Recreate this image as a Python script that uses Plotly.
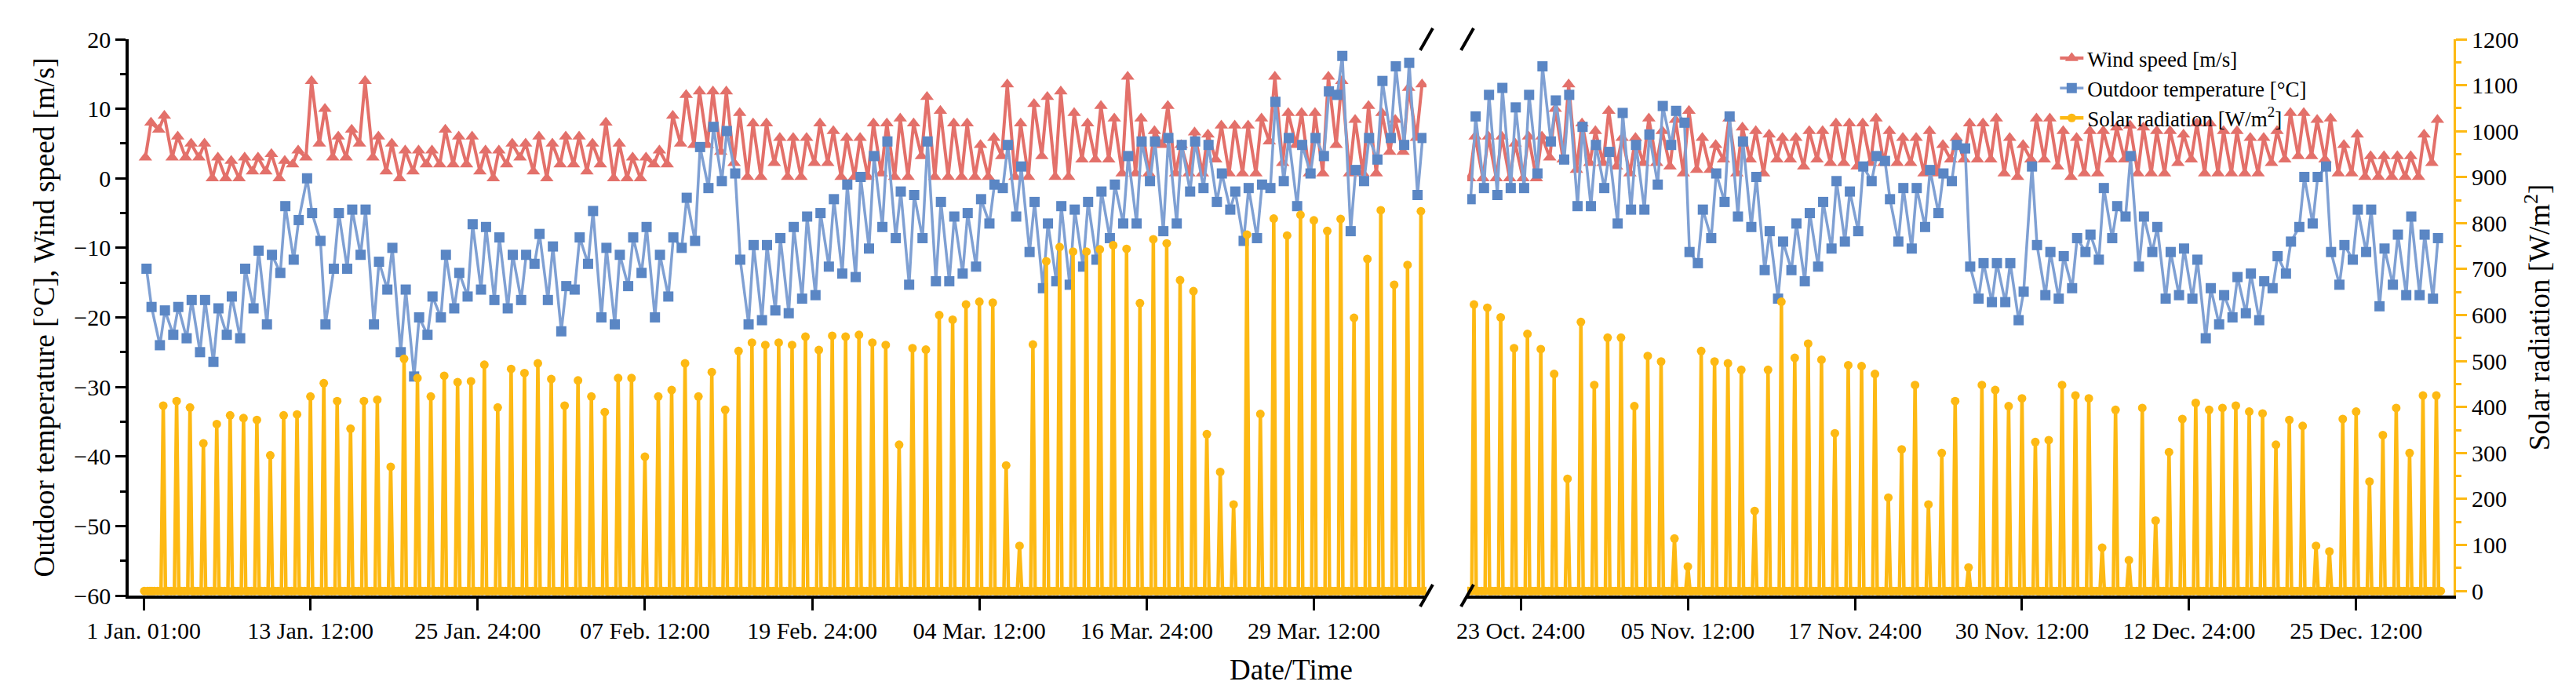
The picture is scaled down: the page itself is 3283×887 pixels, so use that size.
import plotly.graph_objects as go

# ---- data: one am (06:00) and pm (15:00) reading per day ----
# left block: 1 Jan .. 5 Apr
left_temp_am = [-13, -24, -22.5, -23, -25, -26.4, -22.5, -23, -18.7, -21,
                -13.6, -11.7, 0, -9, -13, -13, -11, -21, -16, -25,
                -28.5, -22.5, -20, -18.7, -17, -16, -17.5, -18.7, -17.5, -12.3,
                -17.5, -22, -16, -12.3, -20, -21, -15.5, -13.6, -20, -17,
                -10, -9, -1.4, -0.4, 0.7, -21, -20.4, -19, -19.4, -17.3,
                -16.8, -12.7, -13.7, -14.2, -10.1, -7, -8.6, -15.3, -8.6, -14.8,
                -14.8, -13.7, -12.7, -6.5, -1.4, -5.5, -10.6, -15.8, -14.8, -15.3,
                -12.7, -11.7, -8.6, -6.5, -6.5, -0.4, -7.6, -6.5, -1.9, -1.4,
                -3.4, -4.5, -9, -8.6, -1.4, -0.4, -4, 0.7, 3.2, 12,
                -7.6, -0.4, 2.7, 5.8, 4.8, -2.4]
left_temp_pm = [-18.5, -19, -18.5, -17.5, -17.5, -18.7, -17, -13, -10.4, -11,
                -4, -6, -5, -21, -5, -4.5, -4.5, -12, -10, -16,
                -20, -17, -11, -13.6, -6.6, -7, -8.5, -11, -11, -8,
                -9.8, -15.5, -8.5, -4.7, -10, -11, -8.5, -7, -11, -8.5,
                -2.8, 4.5, 7.4, 6.8, -11.7, -9.6, -9.6, -8.6, -7, -5.5,
                -5, -3, -0.9, 0.2, 3.2, 5.3, -1.9, -2.4, 5.3, -3.4,
                -5.5, -5, -3, -0.9, 4.8, 1.7, -3.4, -6.5, -4, -4.5,
                -3.4, -1.9, -0.9, 3.2, 5.3, 5.3, 5.8, 4.8, 5.3, 4.8,
                0.7, -1.9, -1.4, -0.9, 11, 5.8, 4.8, 5.8, 12.5, 17.6,
                1.2, 5.8, 14, 16.1, 16.6, 5.8]
left_wind_am = [3, 7, 3, 3, 3, 0, 0, 0, 1, 1,
                0, 2, 3, 5, 3, 3, 5, 3, 1, 0,
                1, 2, 2, 2, 2, 1, 0, 2, 3, 1,
                0, 2, 2, 1, 2, 0, 0, 0, 2, 2,
                5, 4.8, 4.8, 3.8, 2.2, 0.2, 0.2, 2.2, 0.2, 0.2,
                2.2, 2.2, 0.2, 0.2, 0.2, 0.7, 0.2, 0.2, 3.2, 0.2,
                0.2, 0.2, 0.2, 0.2, 3.2, 0.2, 0.2, 3.2, 0.2, 0.2,
                2.7, 2.7, 2.7, 0.7, 0.7, 0.7, 4.8, 0.7, 0.7, 0.7,
                2.7, 0.7, 0.7, 0.7, 5.3, 2.2, 4.8, 0.7, 0.7, 4.8,
                0.7, 0.7, 0.7, 3.8, 3.8, 5.8]
left_wind_pm = [8, 9, 6, 5, 5, 3, 2.5, 3, 3, 3.5,
                2.5, 4, 14, 10, 6, 7, 14, 6, 5, 4,
                4, 4, 7, 6, 6, 4, 4, 5, 5, 6,
                5, 6, 6, 5, 8, 5, 3, 3, 4, 9,
                12, 12.5, 12.5, 12.5, 9.4, 7.9, 7.9, 5.8, 5.8, 5.8,
                7.9, 6.8, 5.8, 5.8, 7.9, 7.9, 8.6, 7.9, 11.7, 9.7,
                7.9, 7.9, 4.8, 5.8, 13.5, 7.9, 10.7, 11.7, 12.5, 9.4,
                7.9, 10.4, 8.6, 14.6, 8.6, 6.8, 10.4, 4.8, 6.6, 6.3,
                7.6, 7.6, 7.6, 8.6, 14.6, 9.4, 9.4, 9.4, 14.6, 14,
                8.4, 10.4, 9.4, 8.4, 13, 13.5]
left_solar_noon = [0, 403, 413, 399, 321, 363, 382, 376, 372, 295,
                   382, 384, 423, 452, 413, 353, 413, 416, 270, 505,
                   463, 423, 468, 454, 456, 492, 399, 483, 474, 495,
                   461, 403, 458, 423, 389, 463, 463, 292, 423, 437,
                   495, 423, 476, 394, 522, 540, 535, 540, 535, 553,
                   524, 555, 553, 557, 540, 535, 318, 528, 525, 600,
                   590, 623, 629, 627, 273, 98, 536, 717, 748, 738,
                   738, 743, 752, 744, 626, 765, 756, 676, 652, 341,
                   259, 188, 775, 385, 810, 773, 818, 806, 783, 809,
                   594, 722, 828, 666, 709, 826]

# right block: 20 Oct .. 31 Dec
right_temp_am = [-3, -1.4, -2.4, -1.4, -1.4, 0.7, 5.3, 2.7, -4, -4,
                 -1.4, -6.5, -4.5, -4.5, -0.9, 4.8, 8, -12.2, -8.6, -3.4,
                 -5.5, -7, -13.2, -17.3, -13.2, -14.8, -12.7, -10.1, -9.1, -7.6,
                 -0.4, 2.5, -9.1, -10.1, -7, -5, -0.4, 4.3, -17.3, -17.8,
                 -17.8, -20.4, 1.7, -16.8, -17.3, -15.8, -10.6, -11.7, -8.6, -5.5,
                 -12.7, -10.6, -17.3, -16.8, -17.3, -23, -21, -20, -19.4, -20.4,
                 -15.8, -13.7, -7, -6.5, 1.7, -15.3, -11.7, -10.6, -18.4, -15.3,
                 -16.8, -16.8, -17.3]
right_temp_pm = [8.9, 12, 13, 10.2, 12, 16.1, 11.2, 12, 7.4, 4.8,
                 3.8, 9.4, 4.8, 6.3, 10.4, 9.7, -10.6, -4.5, 0.7, 8.9,
                 5.3, 0.2, -7.6, -9.1, -6.5, -5, -3.4, -0.4, -1.9, 1.7,
                 3.2, -3, -1.4, -1.4, 1.2, 0.7, 4.8, -12.7, -12.2, -12.2,
                 -12.2, -16.3, -9.6, -10.6, -11.2, -8.6, -8.1, -1.4, -4, 3.2,
                 -5.5, -7, -10.6, -10.1, -11.7, -15.8, -16.8, -14.2, -13.7, -14.8,
                 -11.2, -9.1, 0.2, 0.2, -10.6, -9.6, -4.5, -4.5, -10.1, -8.1,
                 -5.5, -8.1, -8.6]
right_wind_am = [0, 0, 0, 0, 0, 0, 3, 2.7, 1.2, 2.2,
                 2.2, 1.7, 0.7, 2.2, 2.2, 1.7, 0.7, 1.2, 1.2, 2.7,
                 0.7, 2.7, 0.7, 2.7, 2.7, 1.7, 2.7, 2.2, 2.2, 1.7,
                 2.2, 2.2, 2.2, 2.2, 0.7, 0.7, 2.7, 2.7, 2.7, 2.7,
                 0.7, 0.2, 2.7, 2.7, 1.7, 0.2, 0.7, 0.7, 2.7, 2.7,
                 0.7, 0.7, 0.7, 2.2, 2.7, 0.7, 0.7, 0.7, 0.7, 0.7,
                 2.2, 2.7, 3.2, 3.2, 2.7, 0.7, 0.7, 0.2, 0.2, 0.2,
                 0.2, 0.2, 2.2]
right_wind_pm = [6, 6, 6, 5, 6, 6, 10, 13.5, 7.9, 6.8,
                 9.7, 5.8, 5.8, 8.6, 6.8, 8.4, 9.7, 5.8, 4.8, 8.6,
                 7.3, 6.8, 6.3, 5.8, 5.8, 6.8, 6.8, 7.9, 7.9, 7.9,
                 8.6, 6.8, 5.8, 5.8, 6.8, 4.8, 5.8, 7.9, 7.9, 8.6,
                 5.8, 4.8, 8.6, 8.6, 6.8, 5.8, 6.8, 6.8, 7.3, 7.6,
                 7.3, 6.8, 6.8, 6.3, 7.9, 7.9, 6.8, 6.8, 5.8, 5.8,
                 6.8, 9.4, 9.4, 8.4, 8.6, 4.8, 6.3, 3.2, 3.2, 3.2,
                 3.2, 6.3, 8.4]
right_solar_noon = [623, 616, 595, 528, 559, 526, 472, 244, 585, 448,
                    551, 551, 402, 511, 499, 114, 53, 522, 499, 495,
                    481, 174, 481, 629, 507, 538, 503, 343, 491, 489,
                    472, 203, 308, 448, 188, 300, 413, 51, 448, 437,
                    402, 419, 324, 328, 448, 425, 419, 94, 394, 67,
                    398, 153, 302, 374, 409, 394, 398, 403, 390, 386,
                    318, 372, 359, 98, 86, 374, 390, 238, 339, 398,
                    300, 425, 425]
solar_night = 0

# hours counted from 1 Jan 00:00
LEFT_START = 0        # 1 Jan 00:00
RIGHT_START = 7008    # 20 Oct 00:00
AM_HOUR, PM_HOUR = 6, 15
WIND_AM, WIND_PM = 4, 14
SOLAR_HOURS = [2, 8, 12, 16, 20]

left_tickvals = [1, 300, 600, 900, 1200, 1500, 1800, 2100]
left_ticktext = ['1 Jan. 01:00', '13 Jan. 12:00', '25 Jan. 24:00', '07 Feb. 12:00',
                 '19 Feb. 24:00', '04 Mar. 12:00', '16 Mar. 24:00', '29 Mar. 12:00']
right_tickvals = [7104, 7404, 7704, 8004, 8304, 8604]
right_ticktext = ['23 Oct. 24:00', '05 Nov. 12:00', '17 Nov. 24:00', '30 Nov. 12:00',
                  '12 Dec. 24:00', '25 Dec. 12:00']

RED = '#E3706A'
BLUE = '#5A86C4'
BLUE_LINE = '#7FA0D3'
YELLOW = '#FDB913'
FONT = 'Liberation Serif'


def two_a_day(start, am_vals, pm_vals, am_hour, pm_hour):
    xs, ys = [], []
    for d, (a, p) in enumerate(zip(am_vals, pm_vals)):
        xs += [start + d * 24 + am_hour, start + d * 24 + pm_hour]
        ys += [a, p]
    return xs, ys


def solar_days(start, noon_vals):
    xs, ys = [], []
    for d, peak in enumerate(noon_vals):
        vals = [solar_night, solar_night, peak, solar_night, solar_night]
        for h, v in zip(SOLAR_HOURS, vals):
            xs.append(start + d * 24 + h)
            ys.append(v)
    return xs, ys


fig = go.Figure()

blocks = [
    ('x', 'y', 'y2', LEFT_START, left_temp_am, left_temp_pm, left_wind_am, left_wind_pm, left_solar_noon, True),
    ('x2', 'y3', 'y4', RIGHT_START, right_temp_am, right_temp_pm, right_wind_am, right_wind_pm, right_solar_noon, False),
]
for xa, ya, ya_sol, start, t_am, t_pm, w_am, w_pm, s_noon, show in blocks:
    wx, wy = two_a_day(start, w_am, w_pm, WIND_AM, WIND_PM)
    fig.add_trace(go.Scatter(x=wx, y=wy, xaxis=xa, yaxis=ya, mode='lines+markers',
                             name='Wind speed [m/s]', legendgroup='wind', showlegend=show,
                             line=dict(color=RED, width=4),
                             marker=dict(symbol='triangle-up', size=15, color=RED)))
    tx, ty = two_a_day(start, t_am, t_pm, AM_HOUR, PM_HOUR)
    fig.add_trace(go.Scatter(x=tx, y=ty, xaxis=xa, yaxis=ya, mode='lines+markers',
                             name='Outdoor temperature [°C]', legendgroup='temp', showlegend=show,
                             line=dict(color=BLUE_LINE, width=3.5),
                             marker=dict(symbol='square', size=13, color=BLUE)))
    sx, sy = solar_days(start, s_noon)
    fig.add_trace(go.Scatter(x=sx, y=sy, xaxis=xa, yaxis=ya_sol, mode='lines+markers',
                             name='Solar radiation [W/m<sup>2</sup>]', legendgroup='solar', showlegend=show,
                             line=dict(color=YELLOW, width=4.5),
                             marker=dict(symbol='circle', size=11, color=YELLOW)))

# pixel layout of the reference
W, H = 3283, 887
ML, MR, MT, MB = 156, 164, 42, 136
plot_w = W - ML - MR
left_dom = [0, (1810 - ML) / plot_w]
right_dom = [(1862 - ML) / plot_w, 1]
left_range = [-26, 2302]
right_range = [7008, 8779]

tick_font = dict(family=FONT, size=30, color='black')
title_font = dict(family=FONT, size=37, color='black')


def bottom_axis(dom, rng, vals, text, anchor):
    return dict(domain=dom, range=rng, anchor=anchor, showline=True, linecolor='black', linewidth=3.5,
                ticks='outside', ticklen=15, tickwidth=3, tickcolor='black',
                tickmode='array', tickvals=vals, ticktext=text, tickfont=tick_font,
                showgrid=False, zeroline=False, automargin=False)


def top_axis(over, rng, vals, anchor, minor0):
    return dict(overlaying=over, side='top', range=rng, anchor=anchor, showline=True,
                linecolor='black', linewidth=3.5, ticks='inside', ticklen=14, tickwidth=3,
                tickcolor='black', tickmode='array', tickvals=vals, showticklabels=False,
                minor=dict(ticks='inside', ticklen=8, tickwidth=3, tickcolor='black', tick0=minor0, dtick=300),
                showgrid=False, zeroline=False, automargin=False)


fig.update_layout(
    width=W, height=H, template='none',
    paper_bgcolor='white', plot_bgcolor='white',
    margin=dict(l=ML, r=MR, t=MT, b=MB),
    font=dict(family=FONT, color='black'),
    xaxis=bottom_axis(left_dom, left_range, left_tickvals, left_ticktext, 'y'),
    xaxis2=bottom_axis(right_dom, right_range, right_tickvals, right_ticktext, 'y3'),
    xaxis3=top_axis('x', left_range, left_tickvals, 'y', 150),
    xaxis4=top_axis('x2', right_range, right_tickvals, 'y3', 7254),
    yaxis=dict(domain=[0, 1], range=[-60, 20], anchor='x', side='left', showline=True,
               linecolor='black', linewidth=3.5, ticks='outside', ticklen=13, tickwidth=3,
               tickcolor='black', tick0=0, dtick=10, tickfont=tick_font,
               minor=dict(ticks='outside', ticklen=7, tickwidth=3, tickcolor='black', tick0=0, dtick=5),
               title=dict(text='Outdoor temperature [°C], Wind speed [m/s]', font=title_font, standoff=14),
               showgrid=False, zeroline=False, automargin=False),
    yaxis2=dict(overlaying='y', anchor='x', range=[-10, 1200], visible=False),
    yaxis3=dict(domain=[0, 1], anchor='x2', range=[-60, 20], visible=False),
    yaxis4=dict(overlaying='y3', anchor='x2', side='right', range=[-10, 1200], showline=True,
                linecolor=YELLOW, linewidth=3, ticks='outside', ticklen=14, tickwidth=3,
                tickcolor=YELLOW, tick0=0, dtick=100, tickfont=tick_font,
                minor=dict(ticks='outside', ticklen=7, tickwidth=3, tickcolor=YELLOW, tick0=0, dtick=50),
                title=dict(text='Solar radiation [W/m<sup>2</sup>]', font=title_font, standoff=15),
                showgrid=False, zeroline=False, automargin=False),
    legend=dict(x=0.829, y=1.0, xanchor='left', yanchor='top', bgcolor='rgba(0,0,0,0)',
                borderwidth=0, font=dict(family=FONT, size=27, color='black'), tracegroupgap=0),
    showlegend=True,
)

fig.add_annotation(text='Date/Time', x=0.5, y=-0.1326, xref='paper', yref='paper',
                   showarrow=False, xanchor='center', yanchor='middle', font=title_font)

# axis break marks (//) on top and bottom axes
dx, dy = 8 / plot_w, 14 / (H - MT - MB)
for bx in [left_dom[1], right_dom[0]]:
    for by in [0, 1]:
        fig.add_shape(type='line', xref='paper', yref='paper',
                      x0=bx - dx, y0=by - dy, x1=bx + dx, y1=by + dy,
                      line=dict(color='black', width=4))

fig.write_html('out.html')
